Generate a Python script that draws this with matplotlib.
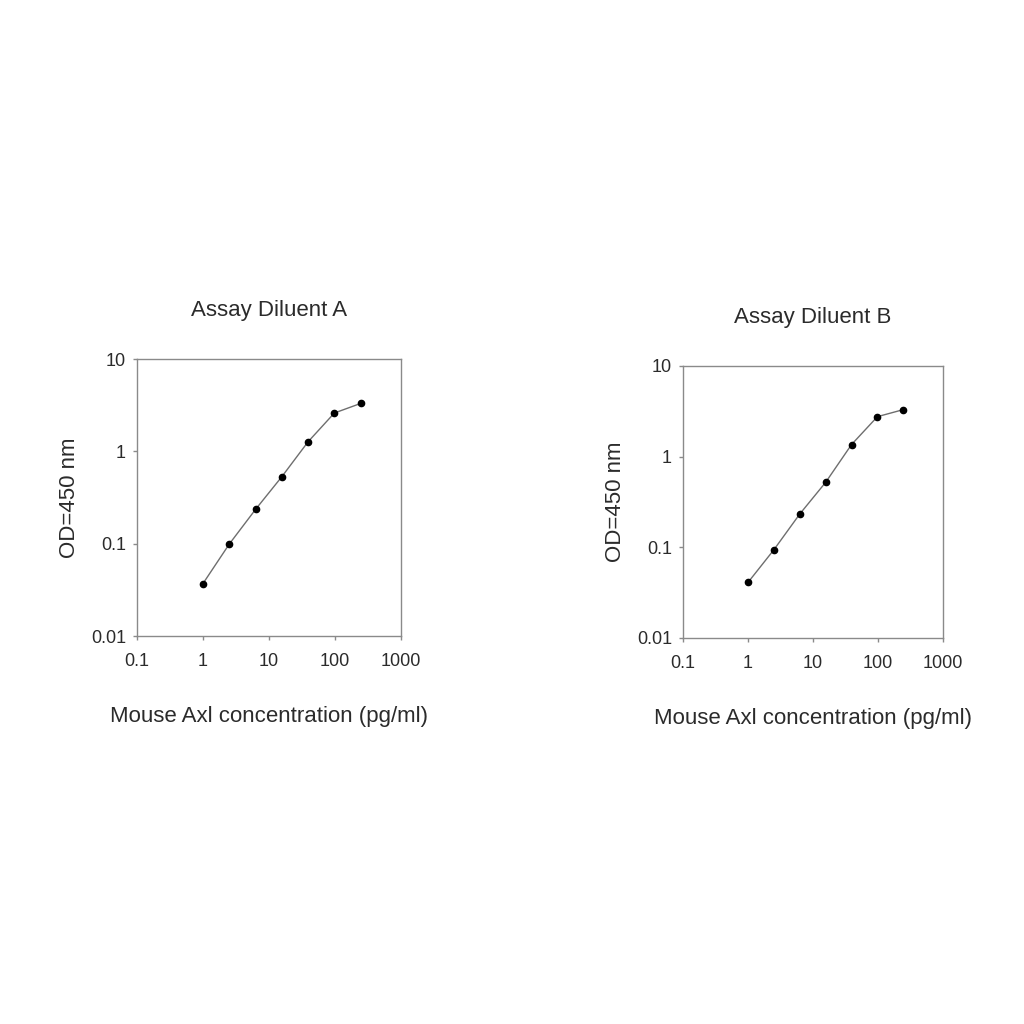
import matplotlib
matplotlib.use("Agg")
import matplotlib.pyplot as plt
from matplotlib.ticker import FixedLocator, FixedFormatter, NullLocator

plt.rcParams["font.family"] = ["Liberation Sans", "DejaVu Sans"]

# concentration (pg/ml)
conc = [1, 2.5, 6.25, 15.6, 39.1, 97.7, 244]
# OD 450 nm readings
od_a = [0.037, 0.099, 0.235, 0.53, 1.27, 2.6, 3.3]
od_b = [0.041, 0.094, 0.233, 0.52, 1.36, 2.76, 3.3]

xticks = [0.1, 1, 10, 100, 1000]
xtick_labels = ["0.1", "1", "10", "100", "1000"]
yticks = [0.01, 0.1, 1, 10]
ytick_labels = ["0.01", "0.1", "1", "10"]

titles = ["Assay Diluent A", "Assay Diluent B"]
xlabel = "Mouse Axl concentration (pg/ml)"
ylabel = "OD=450 nm"

text_col = "#2b2b2b"
frame_col = "#8a8a8a"

fig = plt.figure(figsize=(10.24, 10.24), dpi=100)
positions = [
    [0.1338, 0.3789, 0.2578, 0.2705],
    [0.667, 0.377, 0.254, 0.2656],
]

for pos, od, title in zip(positions, [od_a, od_b], titles):
    ax = fig.add_axes(pos)
    ax.plot(conc, od, color="#6e6e6e", lw=1.0, marker="o", ms=4.5,
            mfc="black", mec="black")
    ax.set_xscale("log")
    ax.set_yscale("log")
    ax.set_xlim(0.1, 1000)
    ax.set_ylim(0.01, 10)
    ax.xaxis.set_major_locator(FixedLocator(xticks))
    ax.xaxis.set_major_formatter(FixedFormatter(xtick_labels))
    ax.yaxis.set_major_locator(FixedLocator(yticks))
    ax.yaxis.set_major_formatter(FixedFormatter(ytick_labels))
    ax.xaxis.set_minor_locator(NullLocator())
    ax.yaxis.set_minor_locator(NullLocator())
    for s in ax.spines.values():
        s.set_color(frame_col)
        s.set_linewidth(1.0)
    ax.tick_params(which="major", length=3, width=1, color=frame_col,
                   labelsize=13, labelcolor=text_col)
    ax.tick_params(axis="x", pad=9)
    ax.tick_params(axis="y", pad=5)
    ax.set_title(title, fontsize=16, color=text_col, pad=31)
    ax.set_xlabel(xlabel, fontsize=16, color=text_col, labelpad=26)
    ax.set_ylabel(ylabel, fontsize=16, color=text_col, labelpad=8)

fig.savefig("out.png", dpi=100, facecolor="white")
